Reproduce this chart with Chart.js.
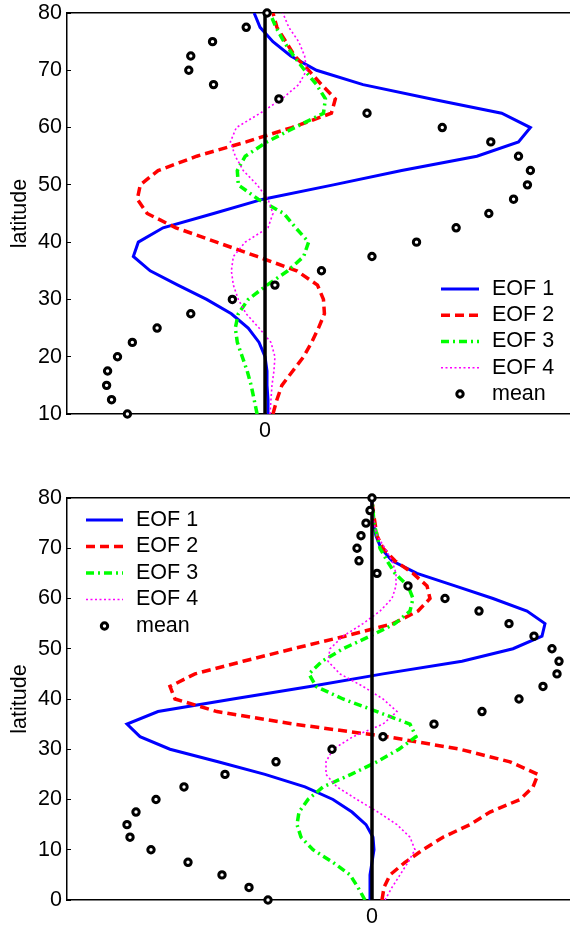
<!DOCTYPE html>
<html>
<head>
<meta charset="utf-8">
<title>EOF profiles by latitude</title>
<script src="https://cdn.jsdelivr.net/npm/chart.js@4.4.1/dist/chart.umd.min.js"></script>
<style>
  html, body { margin: 0; padding: 0; background: #fff; }
  canvas { position: absolute; left: 0; }
  #upper { top: 0; }
  #lower { top: 465px; }
</style>
</head>
<body>
<canvas id="upper" width="570" height="465"></canvas>
<canvas id="lower" width="570" height="464"></canvas>
<script>
// upper panel, 10N..80N every 2.5 degrees
const latUpper = [10, 12.5, 15, 17.5, 20, 22.5, 25, 27.5, 30, 32.5, 35, 37.5, 40, 42.5, 45,
                  47.5, 50, 52.5, 55, 57.5, 60, 62.5, 65, 67.5, 70, 72.5, 75, 77.5, 80];
const eof1Upper = [0.03, 0.03, 0.02, 0.02, 0.00, -0.06, -0.17, -0.34, -0.59, -0.88, -1.16, -1.33, -1.28, -1.03, -0.52,
                   -0.02, 0.69, 1.38, 2.14, 2.56, 2.68, 2.39, 1.68, 0.99, 0.52, 0.26, 0.08, -0.05, -0.11];
const eof2Upper = [0.08, 0.12, 0.17, 0.28, 0.39, 0.47, 0.54, 0.60, 0.59, 0.53, 0.32, -0.08, -0.49, -0.90, -1.19,
                   -1.29, -1.26, -1.08, -0.69, -0.19, 0.27, 0.67, 0.71, 0.57, 0.44, 0.30, 0.21, 0.12, 0.08];
const eof3Upper = [-0.08, -0.11, -0.14, -0.18, -0.23, -0.28, -0.30, -0.27, -0.17, 0.02, 0.23, 0.39, 0.44, 0.31, 0.19,
                   -0.07, -0.27, -0.28, -0.20, 0.02, 0.30, 0.59, 0.61, 0.52, 0.40, 0.29, 0.19, 0.11, 0.05];
const eof4Upper = [0.05, 0.06, 0.07, 0.09, 0.10, 0.06, -0.06, -0.19, -0.27, -0.32, -0.34, -0.32, -0.20, 0.03, 0.08,
                   0.03, -0.08, -0.22, -0.30, -0.35, -0.29, -0.05, 0.17, 0.34, 0.42, 0.40, 0.34, 0.24, 0.18];
const meanUpper = [-1.39, -1.55, -1.60, -1.59, -1.49, -1.34, -1.09, -0.75, -0.33, 0.10, 0.57, 1.08, 1.53, 1.93, 2.26,
                   2.51, 2.65, 2.68, 2.56, 2.28, 1.79, 1.03, 0.14, -0.52, -0.77, -0.75, -0.53, -0.19, 0.02];

// lower panel, 0..80N every 2.5 degrees
const latLower = [0, 2.5, 5, 7.5, 10, 12.5, 15, 17.5, 20, 22.5, 25, 27.5, 30, 32.5, 35, 37.5, 40,
                  42.5, 45, 47.5, 50, 52.5, 55, 57.5, 60, 62.5, 65, 67.5, 70, 72.5, 75, 77.5, 80];
const eof1Lower = [-0.02, -0.02, -0.02, 0.00, 0.02, 0.01, -0.06, -0.20, -0.39, -0.67, -1.07, -1.54, -2.02, -2.32, -2.45, -2.14, -1.39,
                   -0.62, 0.11, 0.90, 1.41, 1.70, 1.73, 1.55, 1.21, 0.83, 0.45, 0.20, 0.09, 0.04, 0.01, 0.00, 0.00];
const eof2Lower = [0.10, 0.12, 0.18, 0.33, 0.51, 0.71, 0.98, 1.18, 1.48, 1.61, 1.66, 1.38, 0.88, 0.15, -0.78, -1.55, -1.97,
                   -2.02, -1.77, -1.29, -0.79, -0.27, 0.21, 0.46, 0.58, 0.55, 0.41, 0.23, 0.11, 0.05, 0.03, 0.01, 0.00];
const eof3Lower = [-0.07, -0.14, -0.22, -0.39, -0.59, -0.71, -0.75, -0.73, -0.64, -0.49, -0.21, 0.05, 0.27, 0.44, 0.38, 0.05, -0.29,
                   -0.56, -0.63, -0.50, -0.29, -0.02, 0.23, 0.38, 0.41, 0.36, 0.23, 0.15, 0.08, 0.05, 0.02, 0.01, 0.00];
const eof4Lower = [0.13, 0.20, 0.28, 0.36, 0.43, 0.38, 0.25, 0.06, -0.15, -0.35, -0.46, -0.46, -0.39, -0.19, 0.11, 0.25, 0.11,
                   -0.09, -0.32, -0.44, -0.42, -0.29, -0.09, 0.08, 0.20, 0.24, 0.24, 0.20, 0.13, 0.05, 0.02, 0.01, 0.00];
const meanLower = [-1.04, -1.23, -1.50, -1.84, -2.21, -2.42, -2.45, -2.36, -2.16, -1.88, -1.47, -0.96, -0.40, 0.11, 0.62, 1.10, 1.47,
                   1.71, 1.85, 1.87, 1.80, 1.62, 1.37, 1.07, 0.73, 0.36, 0.05, -0.13, -0.15, -0.11, -0.06, -0.02, 0.00];

const latTicksUpper = [10, 20, 30, 40, 50, 60, 70, 80];
const latTicksLower = [0, 10, 20, 30, 40, 50, 60, 70, 80];
const xTicks = [0];

const FONT = '"Liberation Sans", Arial, Helvetica, sans-serif';
const FONT_SIZE = 21.5;

function pairs(xs, lats) {
    return xs.map((v, i) => ({ x: v, y: lats[i] }));
}

// legend without a frame, drawn at a fixed spot inside the plot
const eofLegend = {
    id: 'eofLegend',
    afterDatasetsDraw(chart, args, opts) {
        const ctx = chart.ctx;
        ctx.save();
        ctx.font = FONT_SIZE + 'px ' + FONT;
        ctx.textBaseline = 'middle';
        ctx.textAlign = 'left';
        let y = opts.top;
        chart.data.datasets.forEach(ds => {
            if (!ds.label) return;
            const x0 = opts.left, x1 = opts.left + opts.sample;
            if (ds.showLine) {
                ctx.beginPath();
                ctx.strokeStyle = ds.borderColor;
                ctx.lineWidth = ds.borderWidth;
                ctx.setLineDash(ds.borderDash || []);
                ctx.moveTo(x0, y);
                ctx.lineTo(x1, y);
                ctx.stroke();
            } else {
                ctx.setLineDash([]);
                ctx.beginPath();
                ctx.arc((x0 + x1) / 2, y, ds.pointRadius, 0, Math.PI * 2);
                ctx.fillStyle = ds.pointBackgroundColor;
                ctx.fill();
                ctx.lineWidth = ds.pointBorderWidth;
                ctx.strokeStyle = ds.pointBorderColor;
                ctx.stroke();
            }
            ctx.fillStyle = '#000';
            ctx.fillText(ds.label, x1 + opts.gap, y);
            y += opts.rowHeight;
        });
        ctx.restore();
    }
};

function lineSet(label, xs, lats, color, width, dash, order) {
    return {
        label: label,
        data: pairs(xs, lats),
        showLine: true,
        borderColor: color,
        borderWidth: width,
        borderDash: dash,
        pointRadius: 0,
        pointHoverRadius: 0,
        fill: false,
        order: order,
        xAxisID: 'x'
    };
}

function makePanel(id, lats, eofs, mean, latTicks, view) {
    const top = lats[0], bottom = lats[lats.length - 1];
    new Chart(document.getElementById(id), {
        type: 'scatter',
        data: {
            datasets: [
                lineSet('EOF 1', eofs[0], lats, '#0000ff', 3, [], 5),
                lineSet('EOF 2', eofs[1], lats, '#ff0000', 3.5, [9, 5], 4),
                lineSet('EOF 3', eofs[2], lats, '#00ff00', 3.5, [8, 4, 2, 4], 3),
                lineSet('EOF 4', eofs[3], lats, '#ff00ff', 1.6, [2, 2.5], 2),
                {
                    label: 'mean',
                    data: pairs(mean, lats),
                    showLine: false,
                    pointRadius: 3.2,
                    pointBorderWidth: 3,
                    pointBackgroundColor: '#fff',
                    pointBorderColor: '#000',
                    clip: false,
                    order: 0,
                    xAxisID: 'x'
                },
                {
                    label: '',
                    data: [{ x: 0, y: top }, { x: 0, y: bottom }],
                    showLine: true,
                    borderColor: '#000',
                    borderWidth: 3.5,
                    pointRadius: 0,
                    pointHoverRadius: 0,
                    order: 1,
                    xAxisID: 'x'
                }
            ]
        },
        options: {
            responsive: false,
            animation: false,
            layout: { autoPadding: false, padding: { top: view.padTop, right: 0, bottom: 0, left: 0 } },
            plugins: {
                legend: { display: false },
                tooltip: { enabled: false },
                eofLegend: view.legend
            },
            scales: {
                x: {
                    type: 'linear',
                    position: 'bottom',
                    min: view.xMin,
                    max: view.xMax,
                    afterBuildTicks: s => { s.ticks = xTicks.map(v => ({ value: v })); },
                    afterFit: s => { s.height = view.xAxisHeight; },
                    grid: { display: false, drawTicks: false },
                    border: { display: true, color: '#000', width: 1.5 },
                    ticks: { color: '#000', font: { family: FONT, size: FONT_SIZE }, padding: 4.5, maxRotation: 0 }
                },
                xTop: {
                    type: 'linear',
                    position: 'top',
                    min: view.xMin,
                    max: view.xMax,
                    afterFit: s => { s.height = 0; },
                    grid: { display: false, drawTicks: false },
                    ticks: { display: false },
                    border: { display: true, color: '#000', width: 1.5 }
                },
                y: {
                    type: 'linear',
                    min: top,
                    max: bottom,
                    afterBuildTicks: s => { s.ticks = latTicks.map(v => ({ value: v })); },
                    afterFit: s => {
                        s.width = 67;
                        s.paddingTop = 0;
                        s.paddingBottom = 0;
                    },
                    grid: { display: true, drawOnChartArea: false, drawTicks: true, tickLength: -4, color: '#000', lineWidth: 1 },
                    border: { display: true, color: '#000', width: 1.5 },
                    ticks: { color: '#000', font: { family: FONT, size: FONT_SIZE }, padding: 9 },
                    title: {
                        display: true,
                        text: 'latitude',
                        color: '#000',
                        font: { family: FONT, size: FONT_SIZE },
                        padding: { top: 7, bottom: 0 }
                    }
                }
            }
        },
        plugins: [eofLegend]
    });
}

makePanel('upper', latUpper, [eof1Upper, eof2Upper, eof3Upper, eof4Upper], meanUpper, latTicksUpper, {
    xMin: -2.0, xMax: 3.08, padTop: 13, xAxisHeight: 51,
    legend: { left: 441, top: 289, sample: 38, gap: 13, rowHeight: 26.25 }
});

makePanel('lower', latLower, [eof1Lower, eof2Lower, eof3Lower, eof4Lower], meanLower, latTicksLower, {
    xMin: -3.05, xMax: 1.98, padTop: 33, xAxisHeight: 29,
    legend: { left: 86, top: 55, sample: 37, gap: 13, rowHeight: 26.5 }
});
</script>
</body>
</html>
